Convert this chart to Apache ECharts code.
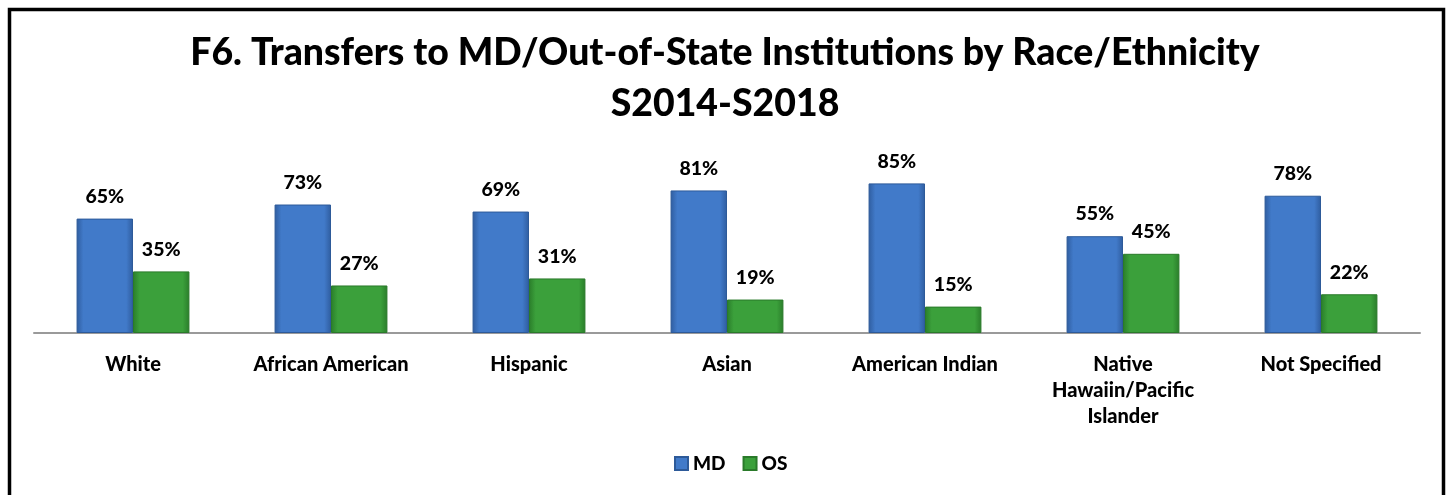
<!DOCTYPE html>
<html>
<head>
<meta charset="utf-8">
<script src="https://cdn.jsdelivr.net/npm/echarts@6/dist/echarts.min.js"></script>
<style>html,body{margin:0;padding:0;background:#fff;}#c{width:1450px;height:495px;}</style>
</head>
<body>
<div id="c"></div>
<script>
const categories = ["White", "African American", "Hispanic", "Asian", "American Indian", "Native\nHawaiin/Pacific\nIslander", "Not Specified"];
const mdValues = [65, 73, 69, 81, 85, 55, 78];
const osValues = [35, 27, 31, 19, 15, 45, 22];
const titleLines = ["F6. Transfers to MD/Out-of-State Institutions by Race/Ethnicity", "S2014-S2018"];

const FONT = "Lato";
const W = 900;
function grad(edge, mid) {
  return new echarts.graphic.LinearGradient(0, 0, 1, 0, [
    {offset: 0, color: edge}, {offset: 0.12, color: mid}, {offset: 0.88, color: mid}, {offset: 1, color: edge}
  ]);
}
const chart = echarts.init(document.getElementById('c'), null, {renderer: 'canvas'});
chart.setOption({
  backgroundColor: '#ffffff',
  animation: false,
  title: {
    text: titleLines.join('\n'),
    left: 'center',
    top: 22,
    textStyle: {fontFamily: FONT, fontWeight: W, fontSize: 37.4, color: '#000', lineHeight: 51}
  },
  legend: {
    bottom: 17,
    left: 669,
    itemWidth: 13, itemHeight: 13, itemGap: 17,
    icon: 'rect',
    textStyle: {fontFamily: FONT, fontWeight: W, fontSize: 19, color: '#000'},
    data: ['MD', 'OS']
  },
  grid: {left: 34, right: 30, top: 157, bottom: 162, containLabel: false},
  xAxis: {
    type: 'category',
    data: categories,
    axisLine: {lineStyle: {color: '#9a9a9a', width: 2}},
    axisTick: {show: false},
    axisLabel: {fontFamily: FONT, fontWeight: W, fontSize: 20, color: '#000', margin: 19, lineHeight: 26, interval: 0}
  },
  yAxis: {
    type: 'value', min: 0, max: 100,
    show: false,
    splitLine: {show: false}
  },
  series: [
    {
      name: 'MD', type: 'bar', data: mdValues,
      barGap: '0%', barCategoryGap: '43%',
      itemStyle: {color: grad('#2f5d9f', '#417ac9'), borderColor: '#2d5a99', borderWidth: 1},
      label: {show: true, position: 'top', distance: 12, formatter: '{c}%', fontFamily: FONT, fontWeight: W, fontSize: 19.5, color: '#000'}
    },
    {
      name: 'OS', type: 'bar', data: osValues,
      itemStyle: {color: grad('#2a7d2a', '#3ba03b'), borderColor: '#2a7a2a', borderWidth: 1},
      label: {show: true, position: 'top', distance: 12, formatter: '{c}%', fontFamily: FONT, fontWeight: W, fontSize: 19.5, color: '#000'}
    }
  ],
  graphic: [{
    type: 'rect', silent: true,
    shape: {x: 9.5, y: 9.5, width: 1434, height: 520},
    style: {fill: null, stroke: '#000', lineWidth: 3.5}
  }]
});
</script>
</body>
</html>
